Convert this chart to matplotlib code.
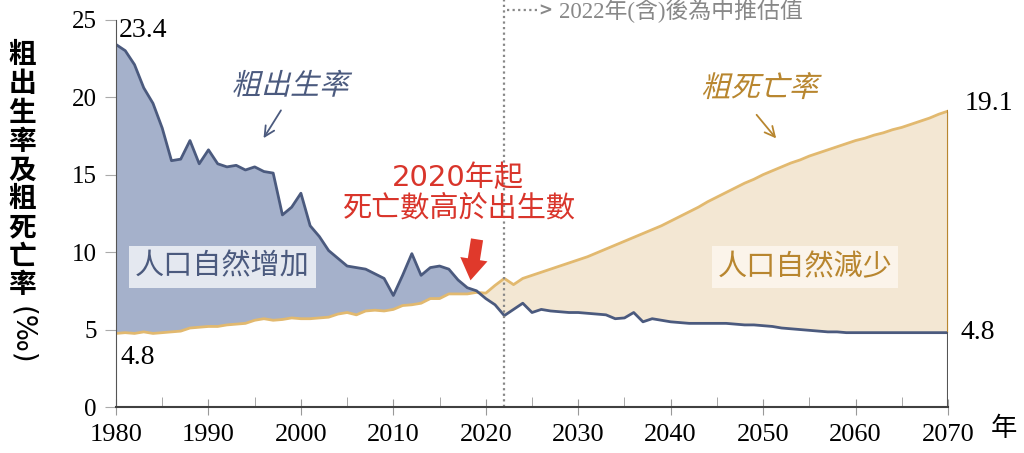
import numpy as np
import matplotlib
matplotlib.use('Agg')
import matplotlib.pyplot as plt
from matplotlib.textpath import TextPath
from matplotlib.patches import PathPatch
from matplotlib.font_manager import FontProperties
from matplotlib.transforms import Affine2D, ScaledTranslation

# data (per mille), 1980-2070, 2022+ are medium projections
years = np.arange(1980, 2071)
birth = [23.4, 23.0, 22.1, 20.6, 19.6, 18.0, 15.9, 16.0, 17.2, 15.7,
         16.6, 15.7, 15.5, 15.6, 15.3, 15.5, 15.2, 15.1, 12.4, 12.9,
         13.8, 11.7, 11.0, 10.1, 9.6, 9.1, 9.0, 8.9, 8.6, 8.3,
         7.2, 8.5, 9.9, 8.5, 9.0, 9.1, 8.9, 8.2, 7.7, 7.5,
         7.0, 6.6, 5.9, 6.3, 6.7, 6.1, 6.3, 6.2, 6.15, 6.1,
         6.1, 6.05, 6.0, 5.95, 5.7, 5.75, 6.1, 5.5, 5.7, 5.6,
         5.5, 5.45, 5.4, 5.4, 5.4, 5.4, 5.4, 5.35, 5.3, 5.3,
         5.25, 5.2, 5.1, 5.05, 5.0, 4.95, 4.9, 4.85, 4.85, 4.8,
         4.8, 4.8, 4.8, 4.8, 4.8, 4.8, 4.8, 4.8, 4.8, 4.8, 4.8]
death = [4.75, 4.8, 4.75, 4.85, 4.75, 4.8, 4.85, 4.9, 5.1, 5.15,
         5.2, 5.2, 5.3, 5.35, 5.4, 5.6, 5.7, 5.6, 5.65, 5.75,
         5.7, 5.7, 5.75, 5.8, 6.0, 6.1, 5.95, 6.2, 6.25, 6.2,
         6.3, 6.55, 6.6, 6.7, 7.0, 7.0, 7.3, 7.3, 7.3, 7.4,
         7.35, 7.85, 8.3, 7.9, 8.3, 8.5, 8.7, 8.9, 9.1, 9.3,
         9.5, 9.7, 9.95, 10.2, 10.45, 10.7, 10.95, 11.2, 11.45, 11.7,
         12.0, 12.3, 12.6, 12.9, 13.25, 13.55, 13.85, 14.15, 14.45, 14.7,
         15.0, 15.25, 15.5, 15.75, 15.95, 16.2, 16.4, 16.6, 16.8, 17.0,
         17.2, 17.35, 17.55, 17.7, 17.9, 18.05, 18.25, 18.45, 18.65, 18.9, 19.1]
birth = np.array(birth)
death = np.array(death)

BLUE = '#4b5a7e'
BLUE_FILL = '#a5b1cb'
GOLD = '#e2b96f'
GOLD_TXT = '#b8862f'
BEIGE = '#f3e7d3'
RED = '#d9352b'
CJK = 'Noto Sans CJK TC'
SERIF = 'Liberation Serif'

fig = plt.figure(figsize=(10.24, 4.53), dpi=100)
ax = fig.add_axes([0.1133, 0.1015, 0.8125, 0.855])

ax.fill_between(years, birth, death, where=birth >= death, interpolate=True,
                color=BLUE_FILL, lw=0)
ax.fill_between(years, birth, death, where=death >= birth, interpolate=True,
                color=BEIGE, lw=0)
ax.plot(years, death, color=GOLD, lw=2)
ax.plot(years, birth, color=BLUE, lw=2)
# right edges at 2070
ax.plot([years[-1], years[-1]], [birth[-1], death[-1]], color=GOLD_TXT, lw=1.5)
ax.plot([years[-1], years[-1]], [0, birth[-1]], color='#555555', lw=1.5)

ax.set_xlim(1980, 2070)
ax.set_ylim(0, 25)
ax.set_xticks(np.arange(1980, 2071, 10))
ax.set_xticks(np.arange(1985, 2070, 10), minor=True)
ax.set_yticks(np.arange(0, 26, 5))
for s in ['top', 'right']:
    ax.spines[s].set_visible(False)
ax.spines['left'].set_color('#555555')
ax.spines['bottom'].set_color('#404040')
ax.spines['bottom'].set_linewidth(1.5)
ax.tick_params(axis='x', which='major', direction='inout', length=12, color='#999999',
               labelsize=19, pad=6)
ax.tick_params(axis='x', which='minor', direction='in', length=7, color='#999999')
ax.tick_params(axis='y', direction='out', length=8, color='#aaaaaa', labelsize=18, pad=6)
for lb in ax.get_xticklabels() + ax.get_yticklabels():
    lb.set_fontfamily(SERIF)

# dotted projection line
ax.plot([2022, 2022], [0, 26.3], color='#888888', lw=1.6, ls=(0, (1, 1.5)), clip_on=False)
ax.plot([2022.3, 2025.9], [25.6, 25.6], color='#888888', lw=1.6, ls=(0, (1, 1.5)), clip_on=False)
ax.text(2025.7, 25.6, '>', color='#888888', fontsize=12, fontweight='bold',
        ha='left', va='center', family='DejaVu Sans')
ax.text(2027.9, 25.6, '2022年(含)後為中推估值', color='#888888', fontsize=16.5,
        ha='left', va='center', family=[SERIF, CJK])

# value labels
ax.text(1980.3, 24.3, '23.4', fontsize=20, family=SERIF, ha='left', va='center', clip_on=False)
ax.text(1980.5, 3.2, '4.8', fontsize=20, family=SERIF, ha='left', va='center')
ax.text(2071.8, 19.6, '19.1', fontsize=20, family=SERIF, ha='left', va='center', clip_on=False)
ax.text(2071.3, 4.8, '4.8', fontsize=20, family=SERIF, ha='left', va='center', clip_on=False)
ax.text(2076.0, -1.4, '年', fontsize=19, family=CJK, ha='center', va='center', clip_on=False)


def slanted(x, y, s, color, size):
    tp = TextPath((0, 0), s, size=size, prop=FontProperties(family=CJK))
    ext = tp.get_extents()
    tr = (Affine2D().translate(-(ext.x0 + ext.x1) / 2, -(ext.y0 + ext.y1) / 2)
          .skew_deg(14, 0).scale(fig.dpi / 72)
          + ScaledTranslation(x, y, ax.transData))
    ax.add_patch(PathPatch(tp, transform=tr, color=color, lw=0, clip_on=False))


slanted(1999.1, 20.9, '粗出生率', BLUE, 21)
slanted(2049.9, 20.75, '粗死亡率', GOLD_TXT, 21)
ax.annotate('', xy=(1995.8, 17.2), xytext=(1998.0, 19.3),
            arrowprops=dict(arrowstyle='->', color=BLUE, lw=1.3, mutation_scale=18))
ax.annotate('', xy=(2051.6, 17.2), xytext=(2049.1, 19.0),
            arrowprops=dict(arrowstyle='->', color=GOLD_TXT, lw=1.3, mutation_scale=18))

# boxes
ax.text(1991.5, 9.05, '人口自然增加', fontsize=21, family=CJK, color=BLUE,
        ha='center', va='center',
        bbox=dict(boxstyle='square,pad=0.2', fc='#e4e8f0', ec='none'))
ax.text(2054.5, 9.05, '人口自然減少', fontsize=21, family=CJK, color=GOLD_TXT,
        ha='center', va='center',
        bbox=dict(boxstyle='square,pad=0.2', fc='#fbf4ea', ec='none'))

# red note
ax.text(2017.0, 14.8, '2020年起', fontsize=21, family=['DejaVu Sans', CJK], color=RED,
        ha='center', va='center')
ax.text(2017.0, 12.8, '死亡數高於出生數', fontsize=21, family=CJK, color=RED,
        ha='center', va='center')
ax.annotate('', xy=(2018.3, 8.0), xytext=(2019.1, 11.0),
            arrowprops=dict(arrowstyle='simple,head_length=0.7,head_width=0.9,tail_width=0.4',
                            color='#e0392b', lw=0, mutation_scale=22))

# y label, stacked upright characters
ylab = '粗出生率及粗死亡率'
for i, ch in enumerate(ylab):
    fig.text(0.022, 0.878 - i * 0.0635, ch, fontsize=20, fontweight='bold', family=CJK,
             ha='center', va='center')
fig.text(0.022, 0.26, '(‰)', fontsize=20, family=['DejaVu Sans', CJK],
         rotation=270, ha='center', va='center')

fig.savefig('out.png', dpi=100)
